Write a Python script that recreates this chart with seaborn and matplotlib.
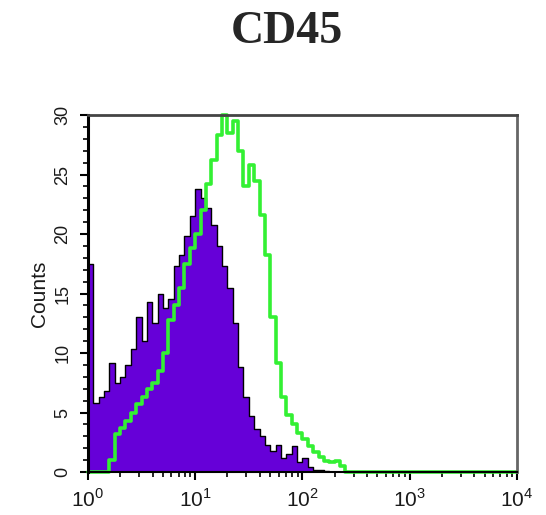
import numpy as np
import pandas as pd
import matplotlib
matplotlib.use('Agg')
import matplotlib.pyplot as plt
from matplotlib.ticker import MultipleLocator, FixedLocator
import seaborn as sns

# Channel bins: log10 fluorescence, 20 bins per decade, 10^0 .. 10^2.5 (rest are empty)
bin_width = 0.05
bin_centers = np.round(np.arange(0.025, 2.5, bin_width), 3)

# Isotype control (filled purple)
isotype_counts = [17.5, 5.8, 6.3, 6.8, 9.2, 7.5, 8.0, 9.0, 10.3, 13.0,
                  11.0, 14.3, 12.5, 15.0, 13.8, 14.5, 17.3, 18.2, 19.8, 21.5,
                  23.8, 23.0, 22.2, 20.8, 19.0, 17.3, 15.5, 12.5, 8.8, 6.3,
                  4.7, 3.6, 3.0, 2.3, 1.8, 2.3, 1.2, 1.5, 2.2, 0.8,
                  1.2, 0.4, 0.2, 0.2, 0.1, 0.0, 0.0, 0.0, 0.0, 0.0]

# CD45 stained sample (green outline)
cd45_counts = [0.0, 0.0, 0.0, 0.0, 1.0, 3.2, 3.7, 4.3, 5.0, 5.7,
               6.3, 7.0, 7.5, 8.5, 10.0, 12.8, 14.0, 15.5, 17.5, 18.8,
               20.0, 22.0, 24.2, 26.2, 28.3, 30.0, 28.5, 29.5, 27.0, 24.0,
               25.8, 24.5, 21.6, 18.2, 13.0, 9.2, 6.3, 4.8, 4.0, 3.3,
               2.8, 2.2, 1.7, 1.3, 0.9, 0.8, 0.9, 0.5, 0.0, 0.0]

decades = [0, 1, 2, 3, 4]
decade_labels = [r'$10^{%d}$' % d for d in decades]
count_ticks = [0, 5, 10, 15, 20, 25, 30]

purple = '#6600d8'
green = '#33f033'

df = pd.DataFrame({'pos': bin_centers, 'isotype': isotype_counts, 'cd45': cd45_counts})

sns.set_style('ticks')
plt.rcParams['font.family'] = ['Liberation Sans', 'DejaVu Sans']
plt.rcParams['mathtext.fontset'] = 'custom'
plt.rcParams['mathtext.rm'] = 'Liberation Sans'

fig = plt.figure(figsize=(5.46, 5.15), dpi=100)
ax = fig.add_axes([0.161, 0.0835, 0.786, 0.693])

edges = np.round(np.arange(0, 4 + bin_width / 2, bin_width), 3).tolist()

sns.histplot(data=df, x='pos', weights='isotype', bins=edges, element='step',
             fill=True, color=purple, alpha=1, edgecolor='black', linewidth=1.0, ax=ax)
sns.histplot(data=df, x='pos', weights='cd45', bins=edges, element='step',
             fill=False, color=green, linewidth=2.6, ax=ax)
for line in ax.lines:
    line.set_clip_on(False)

ax.set_xlim(0, 4)
ax.set_ylim(0, 30)
ax.set_xticks(decades)
ax.set_xticklabels(decade_labels, fontsize=15, color='#1a1a1a')
minor_x = [d + np.log10(k) for d in decades[:-1] for k in range(2, 10)]
ax.xaxis.set_minor_locator(FixedLocator(minor_x))
ax.set_yticks(count_ticks)
ax.set_yticklabels([str(c) for c in count_ticks], fontsize=13, rotation=90,
                   va='center', color='#1a1a1a')
ax.yaxis.set_minor_locator(MultipleLocator(1))
ax.tick_params(which='major', direction='out', length=6, width=1.5, color='black')
ax.tick_params(which='minor', direction='out', length=3.5, width=1.2, color='black')
ax.tick_params(axis='x', pad=6)
ax.tick_params(axis='y', pad=6)

ax.set_xlabel('')
ax.set_ylabel('Counts', fontsize=15, labelpad=4, color='#1a1a1a')

ax.spines['left'].set_linewidth(2.2)
ax.spines['left'].set_color('black')
ax.spines['bottom'].set_linewidth(1.5)
ax.spines['bottom'].set_color('black')
ax.spines['top'].set_linewidth(2.0)
ax.spines['top'].set_color('#444444')
ax.spines['right'].set_linewidth(2.0)
ax.spines['right'].set_color('#666666')

fig.text(0.526, 0.937, 'CD45', family=['Liberation Serif', 'DejaVu Serif'],
         fontweight='bold', fontsize=33, ha='center', va='center')

fig.savefig('out.png', dpi=100)
